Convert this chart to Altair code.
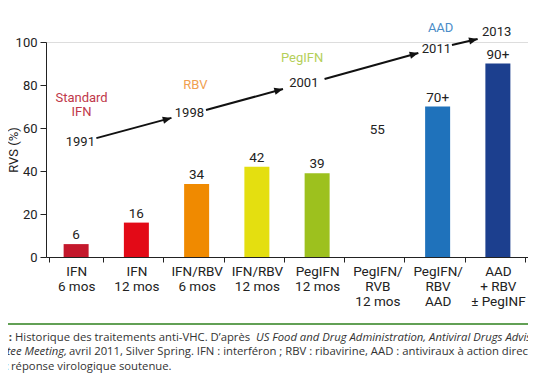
import math
import altair as alt
import pandas as pd

# ---- data ----
categories = ["IFN\n6 mos", "IFN\n12 mos", "IFN/RBV\n6 mos", "IFN/RBV\n12 mos",
              "PegIFN\n12 mos", "PegIFN/\nRVB\n12 mos", "PegIFN/\nRBV\nAAD", "AAD\n+ RBV\n± PegINF"]
rvs = [6, 16, 34, 42, 39, 55, 70, 90]
value_labels = ["6", "16", "34", "42", "39", "55", "70+", "90+"]
bar_colors = ["#c4182c", "#e30a17", "#f08a00", "#e4df10", "#9dc11e", "#ffffff00", "#1f72bb", "#1c3f8e"]

years = ["1991", "1998", "2001", "2011", "2013"]
year_x = [0.57, 2.38, 4.28, 6.48, 7.48]      # in category units
year_y = [53.5, 67.0, 80.9, 96.7, 104.7]     # in RVS %

eras = ["Standard", "IFN", "RBV", "PegIFN", "AAD"]
era_x = [0.59, 0.59, 2.48, 4.25, 6.55]
era_y = [74.0, 67.4, 80.0, 92.6, 106.5]
era_colors = ["#c0384a", "#c0384a", "#f0a050", "#b5cf5a", "#4a8cc8"]

arrow_x0 = [0.836, 2.656, 4.623, 6.738]
arrow_y0 = [55.3, 68.4, 82.8, 98.6]
arrow_x1 = [2.082, 3.934, 6.180, 7.164]
arrow_y1 = [64.7, 78.1, 94.9, 101.4]

W, H = 482, 215
FONT = "Roboto"
CAPFONT = "Open Sans"

bars_df = pd.DataFrame({"cat": categories, "rvs": rvs, "lab": value_labels})
years_df = pd.DataFrame({"t": years, "x": year_x, "y": year_y})
eras_df = pd.DataFrame({"t": eras, "x": era_x, "y": era_y, "c": era_colors})
px_x, px_y = W / 8, H / 100
angles = [math.degrees(math.atan2(-(b1 - b0) * px_y, (a1 - a0) * px_x)) % 360
          for a0, b0, a1, b1 in zip(arrow_x0, arrow_y0, arrow_x1, arrow_y1)]
arrows_df = pd.DataFrame({"x0": arrow_x0, "y0": arrow_y0, "x1": arrow_x1,
                          "y1": arrow_y1, "ang": angles})

yscale = alt.Scale(domain=[0, 100], nice=False)
xq = alt.Scale(domain=[0, 8], nice=False, zero=False)

x_cat = alt.X("cat:N", sort=categories, title=None,
              axis=alt.Axis(labelAngle=0, labelExpr="split(datum.label, '\\n')",
                            tickBand="extent", tickSize=5, tickColor="#222",
                            domainColor="#222", labelFont=FONT, labelFontSize=13.5,
                            labelColor="#222", labelLineHeight=15, labelPadding=2,
                            labelBaseline="top"))
y_ax = alt.Y("rvs:Q", scale=yscale, title="RVS (%)",
             axis=alt.Axis(values=[0, 20, 40, 60, 80, 100], grid=False, tickSize=6,
                           tickColor="#222", domainColor="#222", labelFont=FONT,
                           labelFontSize=13, labelColor="#222", labelPadding=3,
                           titleFont=FONT, titleFontSize=13, titleFontWeight="normal",
                           titleColor="#222", titleX=-33, titleY=H / 2,
                           titleAngle=270, titleAlign="center", titleBaseline="middle"))

bars = alt.Chart(bars_df).mark_bar(size=25).encode(
    x=x_cat, y=y_ax,
    color=alt.Color("cat:N", sort=categories,
                    scale=alt.Scale(domain=categories, range=bar_colors), legend=None))

bar_text = alt.Chart(bars_df).mark_text(font=FONT, fontSize=13.5, color="#222",
                                        baseline="alphabetic", dy=-5).encode(
    x=alt.X("cat:N", sort=categories, axis=None), y=alt.Y("rvs:Q", scale=yscale),
    text="lab:N")

rules = alt.Chart(arrows_df).mark_rule(color="#111", strokeWidth=2).encode(
    x=alt.X("x0:Q", scale=xq, axis=None), x2="x1:Q",
    y=alt.Y("y0:Q", scale=yscale), y2="y1:Q")

heads = alt.Chart(arrows_df).mark_point(
    shape="M0,0L-1,-0.42L-1,0.42Z", filled=True, color="#111", opacity=1,
    size=300, strokeWidth=0).encode(
    x=alt.X("x1:Q", scale=xq, axis=None), y=alt.Y("y1:Q", scale=yscale),
    angle=alt.Angle("ang:Q", scale=None))

year_text = alt.Chart(years_df).mark_text(font=FONT, fontSize=13, color="#222",
                                          baseline="middle").encode(
    x=alt.X("x:Q", scale=xq, axis=None), y=alt.Y("y:Q", scale=yscale), text="t:N")

era_text = alt.Chart(eras_df).mark_text(font=FONT, fontSize=13,
                                        baseline="middle").encode(
    x=alt.X("x:Q", scale=xq, axis=None), y=alt.Y("y:Q", scale=yscale), text="t:N",
    color=alt.Color("c:N", scale=None))

one = alt.Data(values=[{}])
green = alt.Chart(one).mark_rule(color="#62a055", strokeWidth=2).encode(
    x=alt.value(-38), x2=alt.value(490), y=alt.value(282), y2=alt.value(282))


def cap(text, x, y, align="left", style="normal", weight="normal"):
    return alt.Chart(one).mark_text(font=CAPFONT, fontSize=11.3, color="#333",
                                    align=align, baseline="middle",
                                    fontStyle=style, fontWeight=weight).encode(
        x=alt.value(x), y=alt.value(y), text=alt.value(text))


caps = [
    cap("Fig. 1 :", -34, 296, align="right", weight="bold"),
    cap("Historique des traitements anti-VHC. D’après", -31, 296),
    cap("US Food and Drug Administration, Antiviral Drugs Advisory", 210, 296, style="italic"),
    cap("Committee Meeting,", 21, 310, align="right", style="italic"),
    cap("avril 2011, Silver Spring. IFN : interféron ; RBV : ribavirine, AAD : antiviraux à action directe.", 23, 310),
    cap("RVS :", -37, 325, align="right"),
    cap("réponse virologique soutenue.", -35, 325),
]

chart = alt.layer(bars, bar_text, rules, heads, year_text, era_text, green, *caps).resolve_scale(
    x="independent", color="independent"
).properties(
    width=W, height=H,
    autosize=alt.AutoSizeParams(type="none"),
    padding={"left": 38, "top": 34, "right": 0, "bottom": 121},
).configure_view(stroke=None).configure(background="white")

chart.save("out.html", embed_options={"renderer": "svg", "actions": False})
